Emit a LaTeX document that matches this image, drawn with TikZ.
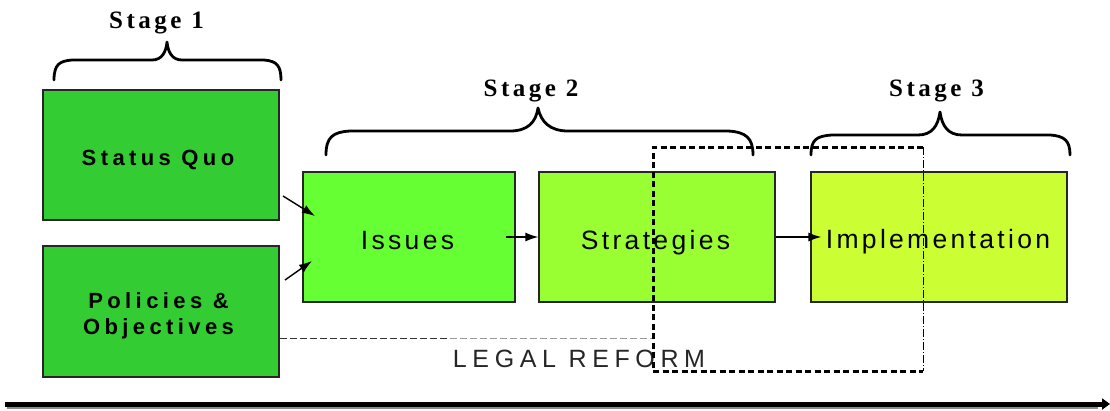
\documentclass[tikz,border=0pt]{standalone}
\usepackage{fontspec}
\usetikzlibrary{arrows.meta}
\newfontfamily\boldbox[LetterSpace=20]{Liberation Sans}
\newfontfamily\regbox[LetterSpace=12.5]{Liberation Sans}
\newfontfamily\legalfont[LetterSpace=22.5]{Liberation Sans}
\newfontfamily\stagefont[LetterSpace=14]{Liberation Serif}
\definecolor{sqgreen}{HTML}{33CC33}
\definecolor{issgreen}{HTML}{66FF33}
\definecolor{strgreen}{HTML}{99FF33}
\definecolor{impgreen}{HTML}{CCFF33}
\tikzset{
  box/.style={draw=black!85, line width=1.2pt, inner sep=0pt},
  boldtext/.style={font=\boldbox\bfseries\fontsize{22}{26}\selectfont, anchor=base, inner sep=0pt},
  regtext/.style={font=\regbox\fontsize{26.5}{30}\selectfont, anchor=base, inner sep=0pt},
  stagelabel/.style={font=\stagefont\bfseries\fontsize{25}{28}\selectfont, anchor=base, inner sep=0pt},
  arr/.style={-{Latex[length=13pt,width=9pt]}, line width=1.4pt},
  bracestyle/.style={line width=2.8pt, line cap=round, line join=round},
  bigdash/.style={line width=3pt, dash pattern=on 6pt off 3.5pt},
}
\begin{document}
\begin{tikzpicture}[x=1pt,y=-1pt]
\useasboundingbox (0,0) rectangle (1110,410);

% boxes
\node[box, fill=sqgreen, minimum width=236pt, minimum height=130pt] (sq) at (161,155) {};
\node[box, fill=sqgreen, minimum width=236pt, minimum height=131pt] (po) at (161,311.5) {};
\node[box, fill=issgreen, minimum width=212pt, minimum height=130pt] (iss) at (409,237) {};
\node[box, fill=strgreen, minimum width=236pt, minimum height=130pt] (str) at (657,237) {};
\node[box, fill=impgreen, minimum width=256pt, minimum height=130pt] (imp) at (939,237) {};

% box texts
\node[boldtext] (sqt) at (158,165) {Status Quo};
\node[boldtext] (pot1) at (158.5,308) {Policies \&};
\node[boldtext] (pot2) at (158.5,334) {Objectives};
\node[regtext] (isst) at (407.5,249) {Issues};
\node[regtext] (strt) at (655.5,249) {Strategies};
\node[regtext] (impt) at (938,248) {Implementation};

% arrows
\coordinate (a1s) at (283,196);
\coordinate (a1e) at (315,216);
\coordinate (a2s) at (285,280);
\coordinate (a2e) at (312,261);
\draw[arr] (a1s) -- (a1e);
\draw[arr] (a2s) -- (a2e);
\draw[arr] ([xshift=-10pt]iss.east) -- (str.west);
\draw[arr] (str.east) -- ([xshift=11pt]imp.west);

% legal reform dashed line and label
\coordinate (lr1) at (280,338);
\coordinate (lr2) at (450,338);
\coordinate (lr3) at (653,338);
\draw[black!80, line width=0.9pt, dash pattern=on 7pt off 3pt] (lr1) -- (lr2);
\draw[black!40, line width=0.9pt, dash pattern=on 7pt off 3pt] (lr2) -- (lr3);
\node[font=\legalfont\fontsize{25}{28}\selectfont, text=black!85, inner sep=0pt, anchor=base] (legal) at (579,367) {LEGAL REFORM};

% dashed rectangle
\coordinate (d1) at (923,147);
\coordinate (d2) at (653,147);
\coordinate (d3) at (653,371);
\coordinate (d4) at (923,371);
\draw[bigdash] (d1) -- (d2) -- (d3) -- (d4);
\draw[line width=0.9pt, dash pattern=on 8pt off 2pt on 1pt off 2pt] (d1) -- (d4);

% braces
\draw[bracestyle] (54,80) .. controls (54,64) and (60,61) .. (72,60) -- (152,60)
  .. controls (162,60) and (166,52) .. (167,42)
  .. controls (168,52) and (172,60) .. (182,60) -- (264,60)
  .. controls (277,61) and (281,66) .. (281,80);
\draw[bracestyle] (326,155) .. controls (326,137) and (333,132) .. (350,131) -- (510,131)
  .. controls (528,131) and (536,122) .. (538,108)
  .. controls (541,122) and (550,131) .. (568,131) -- (728,131)
  .. controls (746,132) and (753,138) .. (753,155);
\draw[bracestyle] (811,155) .. controls (811,140) and (816,136) .. (832,135) -- (918,135)
  .. controls (932,135) and (938,126) .. (940,112)
  .. controls (942,126) and (948,135) .. (962,135) -- (1050,135)
  .. controls (1065,136) and (1070,141) .. (1070,155);

% stage labels
\node[stagelabel] (s1) at (156.5,28.5) {Stage 1};
\node[stagelabel] (s2) at (531,96.5) {Stage 2};
\node[stagelabel] (s3) at (936.5,96.5) {Stage 3};

% time arrow with shadow
\coordinate (t1) at (7,406);
\coordinate (t2) at (1098,406);
\coordinate (u1) at (5,404);
\coordinate (u2) at (1110,404);
\draw[black!45, line width=5pt] (t1) -- (t2);
\draw[line width=5pt, -{Triangle[length=8pt,width=11pt]}] (u1) -- (u2);
\end{tikzpicture}
\end{document}
